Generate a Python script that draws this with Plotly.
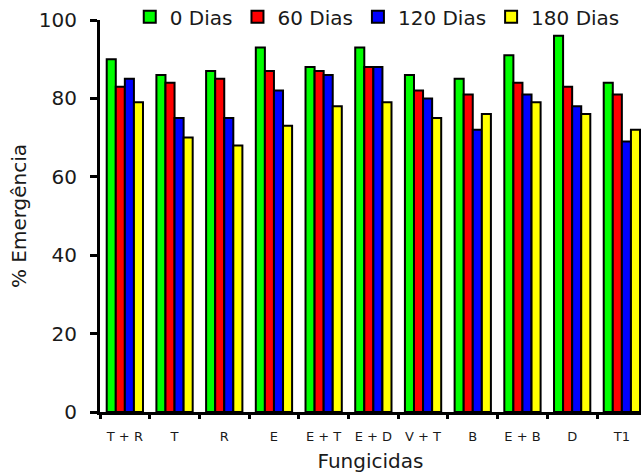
import plotly.graph_objects as go

# Emergence (%) per fungicide treatment after storage time
fungicidas = ["T + R", "T", "R", "E", "E + T", "E + D", "V + T", "B", "E + B", "D", "T1"]
dias_0 = [90, 86, 87, 93, 88, 93, 86, 85, 91, 96, 84]
dias_60 = [83, 84, 85, 87, 87, 88, 82, 81, 84, 83, 81]
dias_120 = [85, 75, 75, 82, 86, 88, 80, 72, 81, 78, 69]
dias_180 = [79, 70, 68, 73, 78, 79, 75, 76, 79, 76, 72]

series = [
    ("0 Dias", dias_0, "#00ff00"),
    ("60 Dias", dias_60, "#ff0000"),
    ("120 Dias", dias_120, "#0000ff"),
    ("180 Dias", dias_180, "#ffff00"),
]

fig = go.Figure()
for name, values, color in series:
    fig.add_trace(go.Bar(x=fungicidas, y=values, name=name,
                         marker=dict(color=color, line=dict(color="black", width=2))))

font_family = "DejaVu Sans, sans-serif"

fig.update_layout(
    width=642, height=476,
    margin=dict(l=100, r=1, t=20, b=64, autoexpand=False),
    paper_bgcolor="white", plot_bgcolor="white",
    barmode="group", bargap=0.27, bargroupgap=0,
    font=dict(family=font_family, color="#1a1a1a"),
    showlegend=True,
    legend=dict(orientation="h", x=0.055, xanchor="left", y=1.008, yanchor="middle",
                font=dict(size=20), bgcolor="rgba(0,0,0,0)",
                itemwidth=30, tracegroupgap=0),
)

fig.update_xaxes(
    title=dict(text="Fungicidas", font=dict(size=20), standoff=12),
    tickfont=dict(size=13), tickson="boundaries", ticklabelstandoff=10,
    ticks="outside", ticklen=4, tickwidth=3, tickcolor="black",
    showline=True, linecolor="black", linewidth=3,
    range=[-0.5, 10.385], showgrid=False, automargin=False,
)
fig.update_yaxes(
    title=dict(text="% Emergência", font=dict(size=20), standoff=7),
    tickfont=dict(size=20), range=[0, 100], tickvals=[0, 20, 40, 60, 80, 100],
    ticks="outside", ticklen=7, tickwidth=3, tickcolor="black", ticklabelstandoff=9,
    showline=True, linecolor="black", linewidth=3, showgrid=False, zeroline=False,
    automargin=False,
)

# drop the default page margin so the figure sits at the window's corner
fig.write_html("out.html", config={"displayModeBar": False},
               post_script="document.body.style.margin='0';document.body.style.overflow='hidden';")
